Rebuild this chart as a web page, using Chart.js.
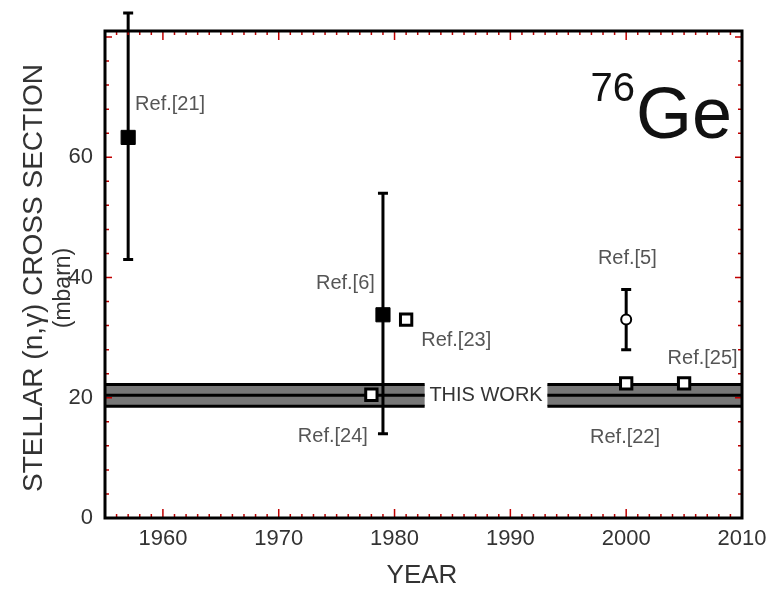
<!DOCTYPE html>
<html>
<head>
<meta charset="utf-8">
<title>76Ge stellar (n,γ) cross section</title>
<script src="https://cdn.jsdelivr.net/npm/chart.js"></script>
<style>
  html, body { margin: 0; padding: 0; background: #fff; }
</style>
</head>
<body>
<canvas id="chart" width="768" height="590"></canvas>
<script>
// values
const xTicks = [1960, 1970, 1980, 1990, 2000, 2010];
const yTicks = [0, 20, 40, 60];

// filled squares: Ref.[21], Ref.[6]
const filledYears = [1957, 1979];
const filledValues = [63.3, 33.8];
const filledLow = [43, 14];
const filledHigh = [84, 54];

// open squares: Ref.[23], Ref.[24], Ref.[22], Ref.[25]
const openYears = [1981, 1978, 2000, 2005];
const openValues = [33, 20.5, 22.4, 22.4];

// open circle: Ref.[5]
const circleYears = [2000];
const circleValues = [33];
const circleLow = [28];
const circleHigh = [38];

// this work (band), interrupted where its label sits
const thisWorkValue = 20.4;
const thisWorkError = 1.8;
const bandGap = [1982.6, 1993.2];

const refLabels = ['Ref.[21]', 'Ref.[6]', 'Ref.[23]', 'Ref.[24]', 'Ref.[5]', 'Ref.[25]', 'Ref.[22]'];

// where each label is anchored (data space) and how it is aligned
const labelPlacement = [
  { x: 1957.6, y: 68.7, align: 'left' },
  { x: 1978.3, y: 39.0, align: 'right' },
  { x: 1982.3, y: 29.5, align: 'left' },
  { x: 1977.7, y: 13.6, align: 'right' },
  { x: 2000.1, y: 43.1, align: 'center' },
  { x: 2006.6, y: 26.5, align: 'center' },
  { x: 1999.9, y: 13.4, align: 'center' }
];

const SANS = '"Liberation Sans", Arial, sans-serif';

const toPoints = (xs, ys) => xs.map((x, i) => ({ x: x, y: ys[i] }));

// error bars (year, low, high) collected from the arrays above
const errorBars = filledYears.map((yr, i) => [yr, filledLow[i], filledHigh[i]])
  .concat(circleYears.map((yr, i) => [yr, circleLow[i], circleHigh[i]]));

// band, error bars, frame, inward ticks and all the text
const decorPlugin = {
  id: 'decor',
  beforeDatasetsDraw(chart) {
    const { ctx, scales: { x, y } } = chart;
    const yTop = y.getPixelForValue(thisWorkValue + thisWorkError);
    const yMid = y.getPixelForValue(thisWorkValue);
    const yBot = y.getPixelForValue(thisWorkValue - thisWorkError);
    const segments = [[x.min, bandGap[0]], [bandGap[1], x.max]];
    ctx.save();
    segments.forEach(seg => {
      const x0 = x.getPixelForValue(seg[0]);
      const x1 = x.getPixelForValue(seg[1]);
      ctx.fillStyle = '#777';
      ctx.fillRect(x0, yTop, x1 - x0, yBot - yTop);
      ctx.strokeStyle = '#000';
      ctx.lineWidth = 3;
      [yTop, yMid, yBot].forEach(py => {
        ctx.beginPath();
        ctx.moveTo(x0, py);
        ctx.lineTo(x1, py);
        ctx.stroke();
      });
    });

    // error bars with caps, under the markers
    ctx.strokeStyle = '#000';
    ctx.lineWidth = 3;
    errorBars.forEach(b => {
      const px = x.getPixelForValue(b[0]);
      const lo = y.getPixelForValue(b[1]);
      const hi = y.getPixelForValue(b[2]);
      ctx.beginPath();
      ctx.moveTo(px, lo);
      ctx.lineTo(px, hi);
      ctx.moveTo(px - 5, lo);
      ctx.lineTo(px + 5, lo);
      ctx.moveTo(px - 5, hi);
      ctx.lineTo(px + 5, hi);
      ctx.stroke();
    });
    ctx.restore();
  },
  afterDatasetsDraw(chart) {
    const { ctx, chartArea: a, scales: { x, y } } = chart;
    ctx.save();
    // inward ticks, red
    ctx.strokeStyle = '#c00000';
    ctx.lineWidth = 1.5;
    for (let yr = Math.ceil(x.min); yr <= x.max; yr++) {
      const px = x.getPixelForValue(yr);
      const len = yr % 10 === 0 ? 9 : 4;
      ctx.beginPath();
      ctx.moveTo(px, a.bottom);
      ctx.lineTo(px, a.bottom - len);
      ctx.moveTo(px, a.top);
      ctx.lineTo(px, a.top + len);
      ctx.stroke();
    }
    for (let v = 0; v <= y.max; v += 4) {
      const py = y.getPixelForValue(v);
      const len = v % 20 === 0 ? 7 : 4;
      ctx.beginPath();
      ctx.moveTo(a.left, py);
      ctx.lineTo(a.left + len, py);
      ctx.moveTo(a.right, py);
      ctx.lineTo(a.right - len, py);
      ctx.stroke();
    }
    // frame
    ctx.strokeStyle = '#000';
    ctx.lineWidth = 3;
    ctx.strokeRect(a.left, a.top, a.right - a.left, a.bottom - a.top);
    ctx.restore();
  },
  afterDraw(chart) {
    const { ctx, scales: { x, y } } = chart;
    ctx.save();
    // reference labels
    ctx.fillStyle = '#555';
    ctx.font = '20px ' + SANS;
    ctx.textBaseline = 'middle';
    refLabels.forEach((txt, i) => {
      const p = labelPlacement[i];
      ctx.textAlign = p.align;
      ctx.fillText(txt, x.getPixelForValue(p.x), y.getPixelForValue(p.y));
    });
    // this work label in the band gap
    ctx.fillStyle = '#333';
    ctx.textAlign = 'center';
    ctx.fillText('THIS WORK', x.getPixelForValue((bandGap[0] + bandGap[1]) / 2), y.getPixelForValue(thisWorkValue));

    // axis titles
    ctx.fillStyle = '#333';
    ctx.textAlign = 'center';
    ctx.font = '26px ' + SANS;
    ctx.fillText('YEAR', 422, 576);
    ctx.save();
    ctx.translate(34, 278);
    ctx.rotate(-Math.PI / 2);
    ctx.font = '28px ' + SANS;
    ctx.fillText('STELLAR (n,γ) CROSS SECTION', 0, 0);
    ctx.font = '23px ' + SANS;
    ctx.fillText('(mbarn)', -10, 30);
    ctx.restore();

    // isotope
    ctx.fillStyle = '#111';
    ctx.textAlign = 'right';
    ctx.textBaseline = 'alphabetic';
    ctx.font = '72px ' + SANS;
    ctx.fillText('Ge', 732, 138);
    const geW = ctx.measureText('Ge').width;
    ctx.font = '40px ' + SANS;
    ctx.fillText('76', 732 - geW - 1, 101);
    ctx.restore();
  }
};

new Chart(document.getElementById('chart'), {
  type: 'scatter',
  data: {
    datasets: [
      {
        label: 'filled',
        data: toPoints(filledYears, filledValues),
        pointStyle: 'rect',
        pointRadius: 10,
        backgroundColor: '#000',
        borderColor: '#000',
        pointBorderWidth: 1
      },
      {
        label: 'open',
        data: toPoints(openYears, openValues),
        pointStyle: 'rect',
        pointRadius: 8,
        backgroundColor: '#fff',
        borderColor: '#000',
        pointBorderWidth: 3
      },
      {
        label: 'circle',
        data: toPoints(circleYears, circleValues),
        pointStyle: 'circle',
        pointRadius: 5,
        backgroundColor: '#fff',
        borderColor: '#000',
        pointBorderWidth: 2
      }
    ]
  },
  options: {
    responsive: false,
    animation: false,
    devicePixelRatio: 1,
    layout: { padding: { left: 0, right: 26, top: 31, bottom: 0 } },
    plugins: {
      legend: { display: false },
      tooltip: { enabled: false }
    },
    scales: {
      x: {
        type: 'linear',
        min: 1955,
        max: 2010,
        grid: { display: false, drawTicks: false },
        border: { display: false },
        afterBuildTicks: scale => { scale.ticks = xTicks.map(v => ({ value: v })); },
        afterFit: scale => {
          scale.height = 72;
          scale.paddingLeft = 0;
          scale.paddingRight = 0;
        },
        ticks: {
          padding: 8,
          color: '#333',
          font: { family: SANS, size: 22 },
          maxRotation: 0,
          callback: v => String(v)
        }
      },
      y: {
        min: 0,
        max: 81,
        grid: { display: false, drawTicks: false },
        border: { display: false },
        afterBuildTicks: scale => { scale.ticks = yTicks.map(v => ({ value: v })); },
        afterFit: scale => {
          scale.width = 105;
          scale.paddingTop = 0;
          scale.paddingBottom = 0;
        },
        ticks: {
          padding: 12,
          color: '#333',
          font: { family: SANS, size: 22 }
        }
      }
    }
  },
  plugins: [decorPlugin]
});
</script>
</body>
</html>
